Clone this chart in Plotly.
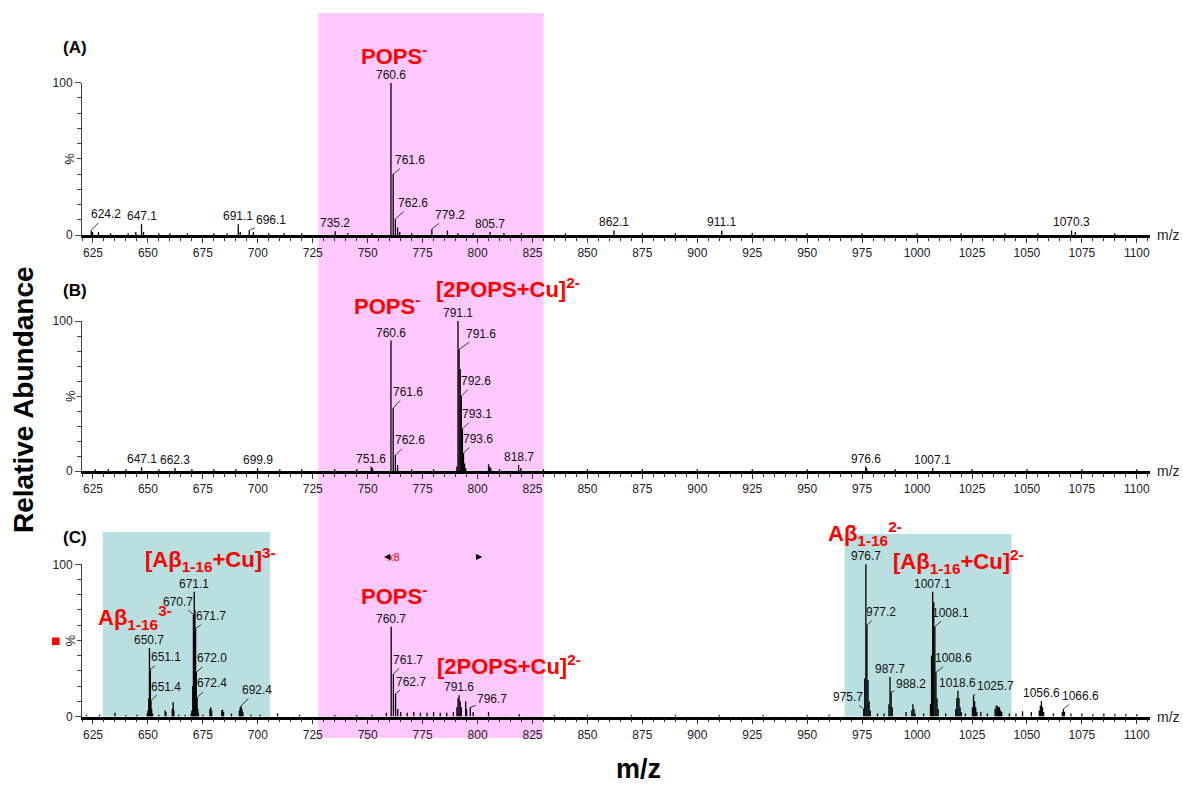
import plotly.graph_objects as go

# ---------------- data ----------------
# Panel A: stick spectrum (m/z, relative abundance %)
a_mz = [624.2, 624.8, 627.5, 633, 641, 644.5, 647.1, 648, 655, 660, 668, 680, 686, 691.1, 692,
        696.1, 698, 705, 712, 720, 735.2, 741, 752, 760.6, 761.6, 762.6, 763.6, 764.6, 770, 779.2,
        786.3, 791, 798, 805.7, 812, 820, 840, 862.1, 875, 890, 911.1, 925, 950, 975, 1000, 1020,
        1040, 1055, 1070.3, 1072, 1090]
a_int = [3, 2, 2, 1.2, 1.2, 2, 7, 2, 1.2, 1.2, 1.2, 1.2, 1.2, 7, 2,
         3, 2, 1.2, 1.2, 1.2, 2.5, 1.2, 1.2, 100, 40, 10.5, 5, 2, 1.2, 4,
         3, 1.2, 1.2, 2, 1.2, 1.2, 1.2, 3, 1.2, 1.2, 3, 1.2, 1.2, 1.2, 1.2, 1.2,
         1.2, 1.2, 3, 2, 1.2]
a_labels = [624.2, 647.1, 691.1, 696.1, 735.2, 760.6, 761.6, 762.6, 779.2, 805.7, 862.1, 911.1, 1070.3]

# Panel B
b_mz = [626, 632, 640, 647.1, 655, 662.3, 670, 680, 690, 699.9, 710, 720, 735, 745, 751.6, 752.2,
        760.6, 761.6, 762.6, 763.6, 770, 780, 790.6, 791.1, 791.6, 792.1, 792.6, 793.1, 793.6, 794.1,
        794.6, 805, 805.5, 806, 810, 818.7, 819.7, 830, 850, 875, 900, 925, 950, 976.6, 977.1, 990,
        1007.1, 1025, 1050, 1075, 1100]
b_int = [1.2, 1.2, 1.2, 2.5, 1.2, 2, 1.2, 1.2, 1.2, 2, 1.2, 1.2, 1.2, 1.2, 3, 2,
         87, 42, 10.5, 4, 1.2, 1.2, 3, 100, 81, 68, 50, 28, 12, 5,
         2, 4.5, 3, 2, 1.2, 4, 2, 1.2, 1.2, 1.2, 1.2, 1.2, 1.2, 3, 2, 1.2,
         2, 1.2, 1.2, 1.2, 1.2]
b_labels = [647.1, 662.3, 699.9, 751.6, 760.6, 761.6, 762.6, 791.1, 791.6, 792.6, 793.1, 793.6,
            818.7, 976.6, 1007.1]

# Panel C
c_mz = [622, 628, 635, 640, 645,
        649.7, 650.0, 650.4, 650.7, 651.1, 651.4, 651.7, 652.1,
        655, 657.8, 658.2, 661.1, 661.5, 661.8, 664, 667,
        669.7, 670.0, 670.4, 670.7, 671.1, 671.4, 671.7, 672.0, 672.4, 672.7, 673.0,
        675, 678.2, 678.6, 679.0, 683.6, 684.0, 684.4, 688,
        691.6, 692.0, 692.4, 692.8, 693.2, 697, 701, 709, 719, 735, 745, 752,
        758.5, 760.7, 761.7, 762.7, 763.7, 765, 768, 771, 774, 777, 780, 783, 786, 789,
        790.6, 791.1, 791.6, 792.1, 792.6, 794.6, 795.0, 796.7, 798, 805, 819,
        835, 850, 870, 890, 910, 930, 950, 960,
        975.7, 976.2, 976.7, 977.2, 977.7, 978.2, 978.7,
        982, 985, 987.2, 987.7, 988.2, 988.7, 995, 997.6, 998.1, 998.6, 999.1,
        1003, 1006.1, 1006.6, 1007.1, 1007.6, 1008.1, 1008.6, 1009.1, 1009.6, 1013,
        1017.6, 1018.1, 1018.6, 1019.1, 1019.6, 1020.1, 1022,
        1025.2, 1025.7, 1026.2, 1026.7, 1027.2, 1029, 1032,
        1035.5, 1036.0, 1036.5, 1037.0, 1037.5, 1038.0, 1038.5, 1042, 1045, 1048, 1052,
        1055.6, 1056.1, 1056.6, 1057.1, 1057.6, 1062, 1066.1, 1066.6, 1067.1,
        1070, 1075, 1080, 1085, 1090, 1095, 1100]
c_int = [1.0, 1.2, 2.5, 1.0, 1.2,
         2, 4, 12, 45, 31, 10.5, 5, 2,
         1.2, 4, 3, 5, 9.5, 4, 1.2, 1.2,
         2, 4, 20, 67, 82, 70, 57.5, 29, 12.5, 5, 2.5,
         1.2, 5, 6, 4, 4, 4.5, 3, 2,
         4, 6, 7, 5, 3, 1.2, 1.2, 2, 1.2, 1, 1, 1,
         2.5, 59, 28, 15, 5, 3, 2.5, 3, 2.5, 2.5, 3, 2.5, 2.5, 3,
         6, 12, 14, 10, 6, 10, 5, 6, 3, 3, 1.5,
         1, 1, 1, 1, 1, 1, 1, 1.2,
         5, 25, 100, 60, 24, 10, 4,
         2, 2, 8, 26, 16, 6, 3, 4, 8, 5, 2,
         2, 8, 40, 82, 75, 59, 29, 12, 5, 2,
         5, 12, 17, 12, 6, 3, 2,
         6, 14, 10, 6, 3, 3, 2,
         5, 7, 7, 6, 6, 4, 3, 2, 2, 3.5, 3,
         4, 7, 10, 6, 3, 2, 3, 5, 3,
         2, 2, 1.5, 2, 1.5, 1.5, 1.5]
c_labels = [650.7, 651.1, 651.4, 670.7, 671.1, 671.7, 672.0, 672.4, 692.4, 760.7, 761.7, 762.7,
            791.6, 796.7, 975.7, 976.7, 977.2, 987.7, 988.2, 1007.1, 1008.1, 1008.6, 1018.6,
            1025.7, 1056.6, 1066.6]

x_ticks_start, x_tick_step, x_minor_step = 625, 25, 5

# ---------------- layout / style ----------------
W, H = 1183, 788
FONT = "Liberation Sans, Arial, sans-serif"
X_RANGE = [620, 1106]
X_DOM = [82 / W, 1150 / W]


def ydom(p0, p100):
    return [1 - p0 / H, 1 - p100 / H]


Y_DOMS = [ydom(235, 82.7), ydom(471, 321), ydom(716.5, 564.3)]


def ypaper(panel, v):
    d = Y_DOMS[panel]
    return d[0] + v / 100.0 * (d[1] - d[0])


PINK = "#FFC8FF"
TEAL = "#B9DFE1"
POPS_BAND = [727.5, 830]
AB_BANDS = [[629.5, 705.5], [967, 1043]]

# label offsets in pixels (dx, dy); missing = centred above the peak
offs_a = {624.2: (15, -16), 696.1: (22, -10), 761.6: (17, -14), 762.6: (18, -16), 779.2: (18, -14)}
offs_b = {761.6: (15, -16), 762.6: (15, -15), 791.6: (22, -16), 792.6: (15, -15),
          793.1: (15, -15), 793.6: (15, -14)}
offs_c = {651.1: (16, -12), 651.4: (15, -14), 670.7: (-15, -13), 671.7: (15, -13),
          672.0: (16, -14), 672.4: (15, -14), 692.4: (16, -16), 761.7: (15, -14),
          762.7: (15, -12), 796.7: (22, -8), 975.7: (-16, -12), 977.2: (14, -13),
          988.2: (20, -8), 1008.1: (16, -14), 1008.6: (18, -14), 1025.7: (22, -9),
          1066.6: (17, -13)}

panels = [(a_mz, a_int, a_labels, offs_a), (b_mz, b_int, b_labels, offs_b),
          (c_mz, c_int, c_labels, offs_c)]

fig = go.Figure()
annotations = []
shapes = []


def paper_text(px, py, text, size, color="black", angle=0, xanchor="center"):
    return dict(x=px / W, y=1 - py / H, xref="paper", yref="paper", text=text,
                textangle=angle, showarrow=False, xanchor=xanchor, yanchor="middle",
                font=dict(family=FONT, size=size, color=color))


for i, (mz, inten, labels, offs) in enumerate(panels):
    k = "" if i == 0 else str(i + 1)
    xs, ys = [], []
    for m, h in zip(mz, inten):
        xs += [m, m, None]
        ys += [0, h, None]
    fig.add_trace(go.Scatter(x=xs, y=ys, mode="lines", line=dict(color="black", width=1.3),
                             xaxis="x" + k, yaxis="y" + k, hoverinfo="skip", showlegend=False))
    lookup = dict(zip(mz, inten))
    for m in labels:
        h = lookup[m]
        dx, dy = offs.get(m, (0, 0))
        if dx == 0 and dy == 0:
            annotations.append(dict(x=m, y=h, xref="x" + k, yref="y" + k, text=f"{m:.1f}",
                                    showarrow=False, yanchor="bottom", xanchor="center",
                                    yshift=-1, font=dict(family=FONT, size=12, color="#111")))
        else:
            annotations.append(dict(x=m, y=h, xref="x" + k, yref="y" + k, text=f"{m:.1f}",
                                    showarrow=True, arrowhead=0, arrowwidth=0.8,
                                    arrowcolor="#111", ax=dx, ay=dy, standoff=0,
                                    font=dict(family=FONT, size=12, color="#111")))
    xa = dict(domain=X_DOM, range=X_RANGE, anchor="y" + k, showline=True, linecolor="black",
              linewidth=2.6, ticks="outside", ticklen=5, tickcolor="#333", tickwidth=1,
              tick0=x_ticks_start, dtick=x_tick_step, showgrid=False, zeroline=False,
              automargin=False,
              tickfont=dict(family=FONT, size=12, color="#222"),
              minor=dict(dtick=x_minor_step, tick0=x_ticks_start, ticks="outside", ticklen=3,
                         tickcolor="#333", showgrid=False))
    ya = dict(domain=Y_DOMS[i], range=[0, 100], anchor="x" + k, showline=True, linecolor="#444",
              linewidth=1, ticks="outside", ticklen=6, tickcolor="#444", tick0=0, dtick=100,
              showgrid=False, zeroline=False, automargin=False,
              tickfont=dict(family=FONT, size=12, color="#222"),
              minor=dict(dtick=10, tick0=0, ticks="outside", ticklen=4, tickcolor="#444",
                         showgrid=False))
    fig.layout["xaxis" + k] = xa
    fig.layout["yaxis" + k] = ya
    # % label and m/z at axis end
    annotations.append(dict(x=70 / W, y=ypaper(i, 50), xref="paper", yref="paper", text="%",
                            textangle=-90, showarrow=False, xanchor="center", yanchor="middle",
                            font=dict(family=FONT, size=13, color="#222")))
    annotations.append(dict(x=1155 / W, y=ypaper(i, 0), xref="paper", yref="paper", text="m/z",
                            showarrow=False, xanchor="left", yanchor="middle",
                            font=dict(family=FONT, size=14, color="#222")))

# bands
shapes.append(dict(type="rect", xref="x", yref="paper", x0=POPS_BAND[0], x1=POPS_BAND[1],
                   y0=1 - 738 / H, y1=1 - 13 / H, fillcolor=PINK, line=dict(width=0),
                   layer="below"))
shapes.append(dict(type="rect", xref="x3", yref="paper", x0=AB_BANDS[0][0], x1=AB_BANDS[0][1],
                   y0=1 - 716.5 / H, y1=1 - 532 / H, fillcolor=TEAL, line=dict(width=0),
                   layer="below"))
shapes.append(dict(type="rect", xref="x3", yref="paper", x0=AB_BANDS[1][0], x1=AB_BANDS[1][1],
                   y0=1 - 716.5 / H, y1=1 - 534 / H, fillcolor=TEAL, line=dict(width=0),
                   layer="below"))
# small red square marker
shapes.append(dict(type="rect", xref="paper", yref="paper", x0=52 / W, x1=59.5 / W,
                   y0=1 - 645 / H, y1=1 - 637.5 / H, fillcolor="#FF0000", line=dict(width=0)))

RED = dict(family=FONT, size=22, color="#FF0000")
red_labels = [
    (0, 762.2, 118, "POPS<sup>-</sup>"),
    (1, 758.6, 111, "POPS<sup>-</sup>"),
    (1, 813.9, 122, "[2POPS+Cu]<sup>2-</sup>"),
    (2, 678.5, 103, "[Aβ<sub>1-16</sub>+Cu]<sup>3-</sup>"),
    (2, 644.0, 65, "Aβ<sub>1-16</sub><sup>3-</sup>"),
    (2, 762.0, 80, "POPS<sup>-</sup>"),
    (2, 814.3, 34, "[2POPS+Cu]<sup>2-</sup>"),
    (2, 976.3, 120, "Aβ<sub>1-16</sub><sup>2-</sup>"),
    (2, 1018.9, 102, "[Aβ<sub>1-16</sub>+Cu]<sup>2-</sup>"),
]
for p, x, y, t in red_labels:
    k = "" if p == 0 else str(p + 1)
    annotations.append(dict(x=x, y=ypaper(p, y), xref="x" + k, yref="paper",
                            text="<b>" + t + "</b>", showarrow=False, xanchor="center",
                            yanchor="middle", font=RED))

# x8 magnification marks in panel C
ymark = ypaper(2, 105)
annotations.append(dict(x=761.8, y=ymark, xref="x3", yref="paper", text="x8", showarrow=False,
                        xanchor="center", yanchor="middle",
                        font=dict(family=FONT, size=11, color="#FF0000")))
annotations.append(dict(x=758.8, y=ymark, xref="x3", yref="paper", text="◀", showarrow=False,
                        xanchor="center", yanchor="middle",
                        font=dict(family=FONT, size=8, color="black")))
annotations.append(dict(x=801.0, y=ymark, xref="x3", yref="paper", text="▶", showarrow=False,
                        xanchor="center", yanchor="middle",
                        font=dict(family=FONT, size=8, color="black")))

# panel letters
for lbl, py in [("(A)", 47), ("(B)", 290), ("(C)", 537)]:
    annotations.append(paper_text(75, py, "<b>" + lbl + "</b>", 17))

# axis titles
annotations.append(paper_text(23, 400, "<b>Relative Abundance</b>", 28, angle=-90))
annotations.append(paper_text(638, 769, "<b>m/z</b>", 27))

fig.update_layout(width=W, height=H, margin=dict(l=0, r=0, t=0, b=0, pad=0),
                  paper_bgcolor="white", plot_bgcolor="rgba(0,0,0,0)",
                  annotations=annotations, shapes=shapes, showlegend=False)

fig.write_html("out.html")
